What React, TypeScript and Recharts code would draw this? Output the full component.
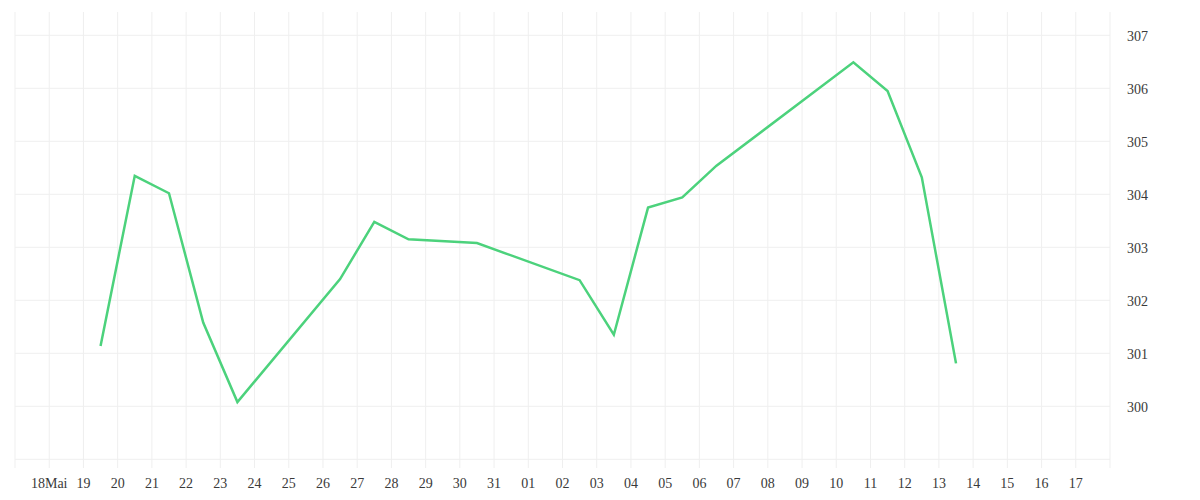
import React from "react";
import { LineChart, Line, XAxis, YAxis, CartesianGrid } from "recharts";

// day offsets from 17 May 00:00 (points are at noon)
const pointDays = [2.5, 3.5, 4.5, 5.5, 6.5, 9.5, 10.5, 11.5, 13.5, 16.5, 17.5, 18.5, 19.5, 20.5, 24.5, 25.5, 26.5, 27.5];
const values = [301.14, 304.35, 304.02, 301.58, 300.08, 302.40, 303.48, 303.15, 303.08, 302.38, 301.35, 303.75, 303.94, 304.54, 306.49, 305.95, 304.32, 300.81];

const xTickLabels = [
  "18Mai", "19", "20", "21", "22", "23", "24", "25", "26", "27", "28", "29", "30", "31",
  "01", "02", "03", "04", "05", "06", "07", "08", "09", "10", "11", "12", "13", "14", "15", "16", "17",
];
const xTicks = Array.from({ length: 33 }, (_, i) => i);
const yTicks = [299, 300, 301, 302, 303, 304, 305, 306, 307];
const yLabelled = [300, 301, 302, 303, 304, 305, 306, 307];

const data = pointDays.map((d, i) => ({ day: d, value: values[i] }));

const FONT = "'Liberation Serif', serif";

const XTick = (props: any) => {
  const { x, y, payload } = props;
  const v = payload.value;
  const label = v >= 1 && v <= xTickLabels.length ? xTickLabels[v - 1] : "";
  if (!label) return null;
  return (
    <text x={x} y={y} dy={20} textAnchor="middle" fill="#3a3a3a" fontSize={14} fontFamily={FONT}>
      {label}
    </text>
  );
};

const YTick = (props: any) => {
  const { x, y, payload } = props;
  if (!yLabelled.includes(payload.value)) return null;
  return (
    <text x={x} y={y} dy={6} textAnchor="start" fill="#3a3a3a" fontSize={14} fontFamily={FONT}>
      {payload.value}
    </text>
  );
};

export default function App() {
  return (
    <div style={{ width: 1184, height: 492, background: "#fff" }}>
      <LineChart width={1184} height={492} data={data} margin={{ top: 4, right: 0, bottom: 0, left: 7 }}>
        <CartesianGrid
          stroke="#efefef"
          strokeWidth={1}
          horizontalValues={yTicks}
          verticalValues={xTicks}
        />
        <XAxis
          dataKey="day"
          type="number"
          domain={[0, 32]}
          ticks={xTicks}
          interval={0}
          axisLine={false}
          tickLine={false}
          tickSize={0}
          tickMargin={0}
          height={32}
          tick={<XTick />}
        />
        <YAxis
          orientation="right"
          type="number"
          domain={[298.836, 307.44]}
          ticks={yTicks}
          interval={0}
          allowDataOverflow
          axisLine={false}
          tickLine={false}
          tickSize={0}
          tickMargin={17}
          width={82}
          tick={<YTick />}
        />
        <Line
          type="linear"
          dataKey="value"
          stroke="#4cd27c"
          strokeWidth={2.5}
          dot={false}
          activeDot={false}
          isAnimationActive={false}
        />
      </LineChart>
    </div>
  );
}
